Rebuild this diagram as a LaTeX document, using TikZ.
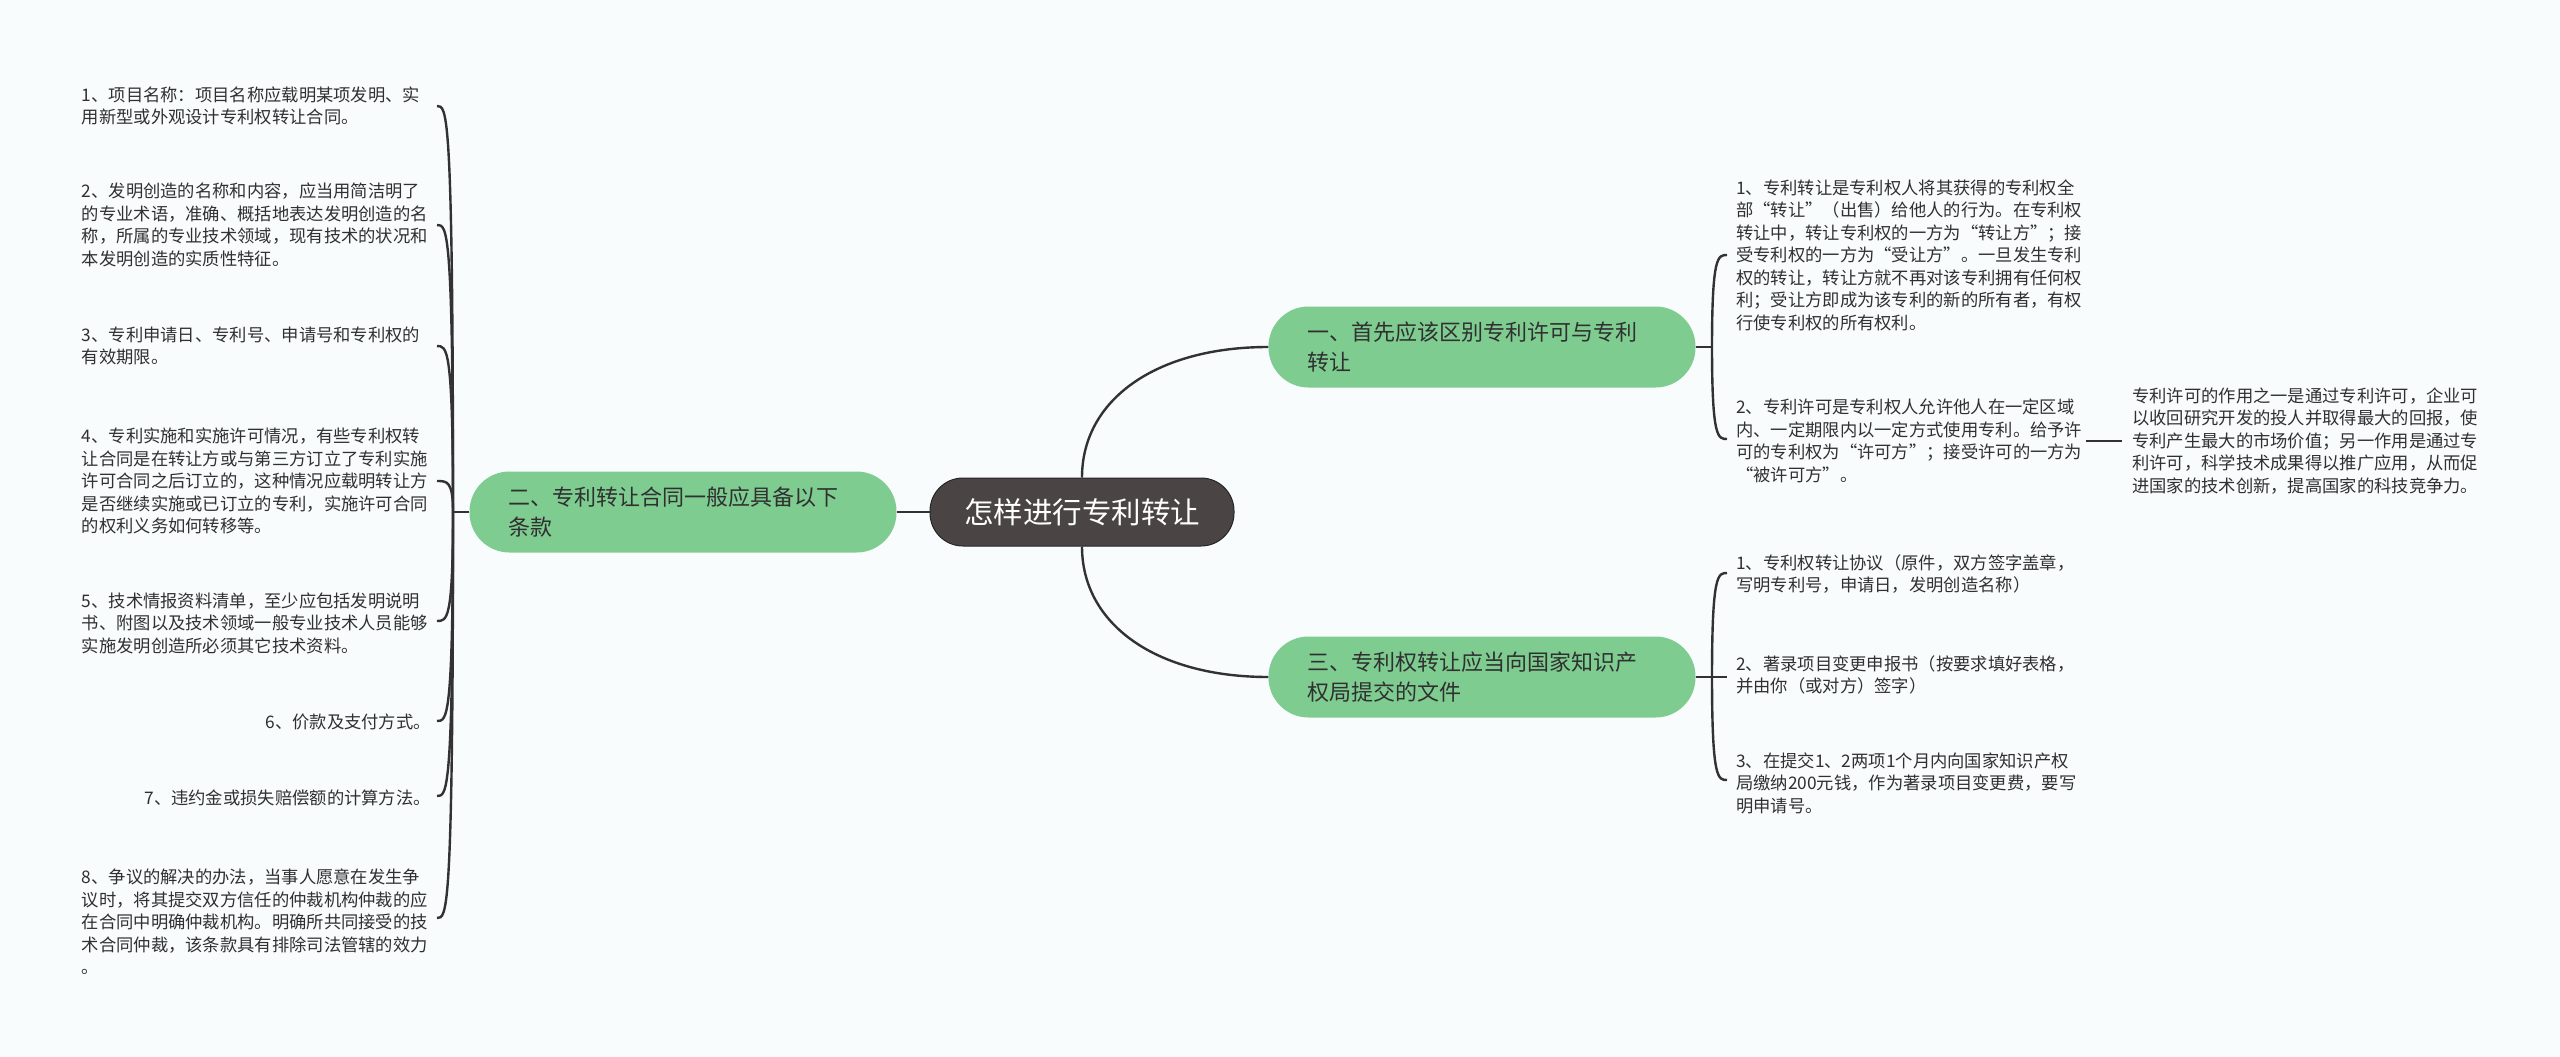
\documentclass[tikz,border=0pt]{standalone}
\usepackage{fontspec}
\setmainfont{Noto Sans CJK SC}
\definecolor{bgc}{RGB}{248,252,253}
\definecolor{pillc}{RGB}{127,204,145}
\definecolor{rootc}{RGB}{74,69,68}
\definecolor{lnc}{RGB}{50,50,50}
\definecolor{txtc}{RGB}{48,48,48}
\begin{document}
\begin{tikzpicture}[x=1pt,y=-1pt,
  conn/.style={draw=lnc,line width=2.4pt},
  rootnode/.style={fill=rootc,draw=black!85,line width=1pt,rounded corners=33pt,
    minimum width=304pt,minimum height=68pt,text=white,inner sep=0pt,
    font=\fontsize{29.5}{34}\selectfont},
  pillnode/.style={fill=pillc,rounded corners=40pt,minimum width=427pt,minimum height=81pt,
    text=txtc,inner sep=0pt,align=left,text width=350pt,
    font=\fontsize{22}{30}\selectfont},
  leaf/.style={text=txtc,inner sep=0pt,align=left,font=\fontsize{17.3}{22.5}\selectfont},
  longleaf/.style={leaf,text width=346pt}
]
\fill[bgc] (0,0) rectangle (2560,1057);
\useasboundingbox (0,0) rectangle (2560,1057);

% central and main topics
\node[rootnode] (root) at (1082,512) {怎样进行专利转让};
\node[pillnode] (P2) at (683,512) {二、专利转让合同一般应具备以下\\条款};
\node[pillnode] (P1) at (1482,347) {一、首先应该区别专利许可与专利\\转让};
\node[pillnode] (P3) at (1482,677) {三、专利权转让应当向国家知识产\\权局提交的文件};

\draw[conn] (root.west) -- (P2.east);
\draw[conn] (root.north) .. controls +(0,-78) and +(-112,0) .. (P1.west);
\draw[conn] (root.south) .. controls +(0,78) and +(-112,0) .. (P3.west);

% left leaves
\node[longleaf,anchor=east] (L1) at (428,106) {1、项目名称：项目名称应载明某项发明、实\\用新型或外观设计专利权转让合同。};
\node[longleaf,anchor=east] (L2) at (428,225) {2、发明创造的名称和内容，应当用简洁明了\\的专业术语，准确、概括地表达发明创造的名\\称，所属的专业技术领域，现有技术的状况和\\本发明创造的实质性特征。};
\node[longleaf,anchor=east] (L3) at (428,346) {3、专利申请日、专利号、申请号和专利权的\\有效期限。};
\node[longleaf,anchor=east] (L4) at (428,481) {4、专利实施和实施许可情况，有些专利权转\\让合同是在转让方或与第三方订立了专利实施\\许可合同之后订立的，这种情况应载明转让方\\是否继续实施或已订立的专利，实施许可合同\\的权利义务如何转移等。};
\node[longleaf,anchor=east] (L5) at (428,623) {5、技术情报资料清单，至少应包括发明说明\\书、附图以及技术领域一般专业技术人员能够\\实施发明创造所必须其它技术资料。};
\node[leaf,anchor=east] (L6) at (431,722) {6、价款及支付方式。};
\node[leaf,anchor=east] (L7) at (431,798) {7、违约金或损失赔偿额的计算方法。};
\node[longleaf,anchor=east] (L8) at (428,922) {8、争议的解决的办法，当事人愿意在发生争\\议时，将其提交双方信任的仲裁机构仲裁的应\\在合同中明确仲裁机构。明确所共同接受的技\\术合同仲裁，该条款具有排除司法管辖的效力\\。};

\coordinate (LT) at (453,512);
\coordinate (L1t) at (437,106);
\coordinate (L2t) at (437,225);
\coordinate (L3t) at (437,346);
\coordinate (L4t) at (437,481);
\coordinate (L5t) at (437,621);
\coordinate (L6t) at (437,721);
\coordinate (L7t) at (437,796);
\coordinate (L8t) at (437,918);
\draw[conn] (P2.west) -- (LT);
\draw[conn] (LT) .. controls (453,106) and (447,106) .. (L1t);
\draw[conn] (LT) .. controls (453,225) and (447,225) .. (L2t);
\draw[conn] (LT) .. controls (453,346) and (447,346) .. (L3t);
\draw[conn] (LT) .. controls (453,481) and (447,481) .. (L4t);
\draw[conn] (LT) .. controls (453,621) and (447,621) .. (L5t);
\draw[conn] (LT) .. controls (453,721) and (447,721) .. (L6t);
\draw[conn] (LT) .. controls (453,796) and (447,796) .. (L7t);
\draw[conn] (LT) .. controls (453,918) and (447,918) .. (L8t);

% right leaves of section one
\node[longleaf,anchor=west] (R11) at (1736,255) {1、专利转让是专利权人将其获得的专利权全\\部“转让”（出售）给他人的行为。在专利权\\转让中，转让专利权的一方为“转让方”；接\\受专利权的一方为“受让方”。一旦发生专利\\权的转让，转让方就不再对该专利拥有任何权\\利；受让方即成为该专利的新的所有者，有权\\行使专利权的所有权利。};
\node[longleaf,anchor=west] (R12) at (1736,441) {2、专利许可是专利权人允许他人在一定区域\\内、一定期限内以一定方式使用专利。给予许\\可的专利权为“许可方”；接受许可的一方为\\“被许可方”。};
\node[longleaf,anchor=west] (G) at (2132,441) {专利许可的作用之一是通过专利许可，企业可\\以收回研究开发的投人并取得最大的回报，使\\专利产生最大的市场价值；另一作用是通过专\\利许可，科学技术成果得以推广应用，从而促\\进国家的技术创新，提高国家的科技竞争力。};

\coordinate (RT1) at (1712,347);
\coordinate (R11t) at (1727,255);
\coordinate (R12t) at (1727,439);
\draw[conn] (P1.east) -- (RT1);
\draw[conn] (RT1) .. controls (1712,255) and (1718,255) .. (R11t);
\draw[conn] (RT1) .. controls (1712,439) and (1718,439) .. (R12t);
\draw[conn,shorten <=4pt,shorten >=10pt] (R12.east) -- (G.west);

% right leaves of section three
\node[longleaf,anchor=west] (R31) at (1736,574) {1、专利权转让协议（原件，双方签字盖章，\\写明专利号，申请日，发明创造名称）};
\node[longleaf,anchor=west] (R32) at (1736,675) {2、著录项目变更申报书（按要求填好表格，\\并由你（或对方）签字）};
\node[longleaf,anchor=west] (R33) at (1736,783) {3、在提交1、2两项1个月内向国家知识产权\\局缴纳200元钱，作为著录项目变更费，要写\\明申请号。};

\coordinate (RT3) at (1712,677);
\coordinate (R31t) at (1727,573);
\coordinate (R32t) at (1727,677);
\coordinate (R33t) at (1727,780);
\draw[conn] (P3.east) -- (R32t);
\draw[conn] (RT3) .. controls (1712,573) and (1718,573) .. (R31t);
\draw[conn] (RT3) .. controls (1712,780) and (1718,780) .. (R33t);
\end{tikzpicture}
\end{document}
